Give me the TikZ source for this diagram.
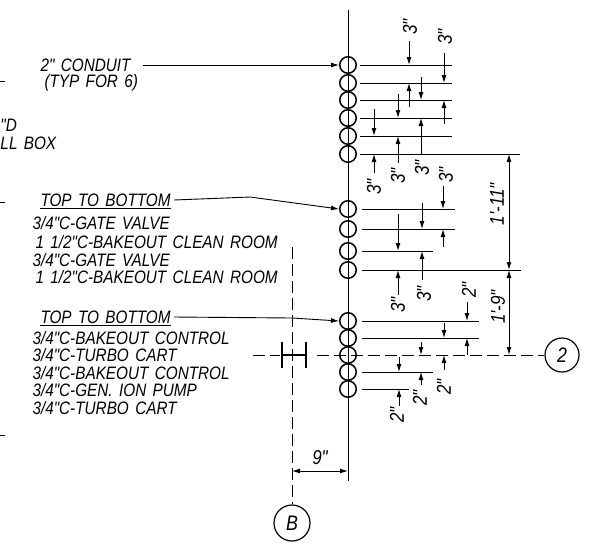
\documentclass[tikz,border=0pt]{standalone}
\usepackage{fontspec}
\newfontfamily\cadfont[FakeStretch=0.85,WordSpace=1.5]{Liberation Sans}
\usetikzlibrary{arrows.meta}
\begin{document}
\begin{tikzpicture}[x=1pt, y=-1pt, line width=1pt, >={Latex[length=8pt,width=5pt]},
    note/.style= {anchor=west, inner sep=0pt, font=\cadfont\itshape\fontsize{18}{18}\selectfont},
    dimtext/.style= {inner sep=0pt, rotate=90, font=\cadfont\itshape\fontsize{20}{20}\selectfont},
    pipe/.style= {draw, circle, line width=1.5pt, inner sep=0pt, minimum size=16.5pt},
    tag/.style= {draw, circle, line width=1.2pt, inner sep=0pt, font=\cadfont\itshape\fontsize{21}{21}\selectfont},
    center line/.style= {dash pattern=on 12pt off 5pt},
]
\useasboundingbox (0,0) rectangle (591,555);

% wall
\draw (348,10) -- (348,481);

% conduits
\node[pipe] (P1) at (348,65) {};
\node[pipe] (P2) at (348,83) {};
\node[pipe] (P3) at (348,100) {};
\node[pipe] (P4) at (348,118) {};
\node[pipe] (P5) at (348,136) {};
\node[pipe] (P6) at (348,154) {};

\node[pipe] (Q1) at (348,209) {};
\node[pipe] (Q2) at (348,229) {};
\node[pipe] (Q3) at (348,251) {};
\node[pipe] (Q4) at (348,270) {};

\node[pipe] (R1) at (348,321) {};
\node[pipe] (R2) at (348,338) {};
\node[pipe] (R3) at (348,355) {};
\node[pipe] (R4) at (348,372) {};
\node[pipe] (R5) at (348,389) {};

% extension lines
\draw (360,65) -- (452,65);
\draw (360,83) -- (452,83);
\draw (360,100) -- (452,100);
\draw (360,118) -- (452,118);
\draw (360,136) -- (452,136);
\draw (360,154) -- (520,154);

\draw (362,209) -- (455,209);
\draw (362,229) -- (455,229);
\draw (362,251) -- (433,251);
\draw (362,270) -- (521,270);

\draw (362,321) -- (479,321);
\draw (362,338) -- (479,338);
\draw (362,372) -- (433,372);
\draw (362,389) -- (409,389);

% dimension arrows
\draw[->] (409,41) -- (409,65);
\draw[->] (409,107) -- (409,83);
\draw[->] (444,53) -- (444,83);
\draw[->] (444,124) -- (444,100);
\draw[->] (421,77) -- (421,100);
\draw[->] (421,154) -- (421,118);
\draw[->] (398,94) -- (398,118);
\draw[->] (398,163) -- (398,136);
\draw[->] (374,109) -- (374,136);
\draw[->] (374,173) -- (374,154);

\draw[->] (443,186) -- (443,209);
\draw[->] (443,247) -- (443,229);
\draw[->] (422,203) -- (422,229);
\draw[->] (422,280) -- (422,251);
\draw[->] (398,214) -- (398,251);
\draw[->] (398,295) -- (398,270);

\draw[->] (467,302) -- (467,321);
\draw[->] (467,355) -- (467,338);
\draw[->] (444,323) -- (444,338);
\draw[->] (444,370) -- (444,355);
\draw[->] (421,342) -- (421,355);
\draw[->] (421,385) -- (421,372);
\draw[->] (399,357) -- (399,372);
\draw[->] (399,406) -- (399,389);

\draw[<->] (509,154) -- (509,270);
\draw[<->] (509,270) -- (509,355);
\draw[<->] (292,471) -- (348,471);

% dimension labels
\node[dimtext] (d1) at (410,27) {3"};
\node[dimtext] (d2) at (445,37) {3"};
\node[dimtext] (d3) at (374,187) {3"};
\node[dimtext] (d4) at (398,176) {3"};
\node[dimtext] (d5) at (422,168) {3"};
\node[dimtext] (d6) at (446,175) {3"};
\node[dimtext] (d7) at (398,305) {3"};
\node[dimtext] (d8) at (424,294) {3"};
\node[dimtext] (d9) at (469,290) {2"};
\node[dimtext] (d10) at (444,387) {2"};
\node[dimtext] (d11) at (420,398) {2"};
\node[dimtext] (d12) at (397,415) {2"};
\node[dimtext] (d13) at (497,204) {1'-11"};
\node[dimtext] (d14) at (498,307) {1'-9"};
\node[inner sep=0pt, font=\cadfont\itshape\fontsize{20}{20}\selectfont] (nine) at (320,458) {9"};

% notes
\node[note] (condA) at (40,65) {2" CONDUIT};
\node[note] (condB) at (44,83) {(TYP FOR 6)};
\node[note] (boxA) at (0,125) {"D};
\node[note] (boxB) at (0,143) {LL BOX};

\node[note] (topA) at (40,200) {TOP TO BOTTOM};
\node[note] (a1) at (32,223) {3/4"C-GATE VALVE};
\node[note] (a2) at (35,242) {1 1/2"C-BAKEOUT CLEAN ROOM};
\node[note] (a3) at (32,260) {3/4"C-GATE VALVE};
\node[note] (a4) at (35,277) {1 1/2"C-BAKEOUT CLEAN ROOM};

\node[note] (topB) at (40,317) {TOP TO BOTTOM};
\node[note] (b1) at (32,338) {3/4"C-BAKEOUT CONTROL};
\node[note] (b2) at (32,355) {3/4"C-TURBO CART};
\node[note] (b3) at (32,373) {3/4"C-BAKEOUT CONTROL};
\node[note] (b4) at (32,390) {3/4"C-GEN. ION PUMP};
\node[note] (b5) at (32,408) {3/4"C-TURBO CART};

\draw ([yshift=-2pt]topA.south west) -- ([yshift=-2pt]topA.south east);
\draw ([yshift=-2pt]topB.south west) -- ([yshift=-2pt]topB.south east);

% leaders
\draw[->, line width=0.9pt] ([xshift=12pt]condA.east) -- (P1.west);
\draw[->, line width=0.9pt] ([xshift=3pt]topA.east) -- (250,197) -- (Q1.west);
\draw[->, line width=0.9pt] ([xshift=3pt]topB.east) -- (292,318) -- (R1.west);

% section cuts
\node[tag, minimum size=34pt] (two) at (562,355) {2};
\node[tag, minimum size=36pt] (sectB) at (292,523) {B};
\draw[center line] (253,355) -- (280,355);
\draw[center line] (317,355) -- (two.west);
\draw[center line] (292,247) -- (sectB.north);
\draw[line width=2.4pt] (282,342) -- (282,368);
\draw[line width=2.4pt] (306,342) -- (306,368);
\draw[line width=1.8pt] (282,355) -- (306,355);

% margin ticks
\draw (0,81) -- (5,81);
\draw (0,202) -- (5,202);
\draw (0,435) -- (5,435);

\end{tikzpicture}
\end{document}
